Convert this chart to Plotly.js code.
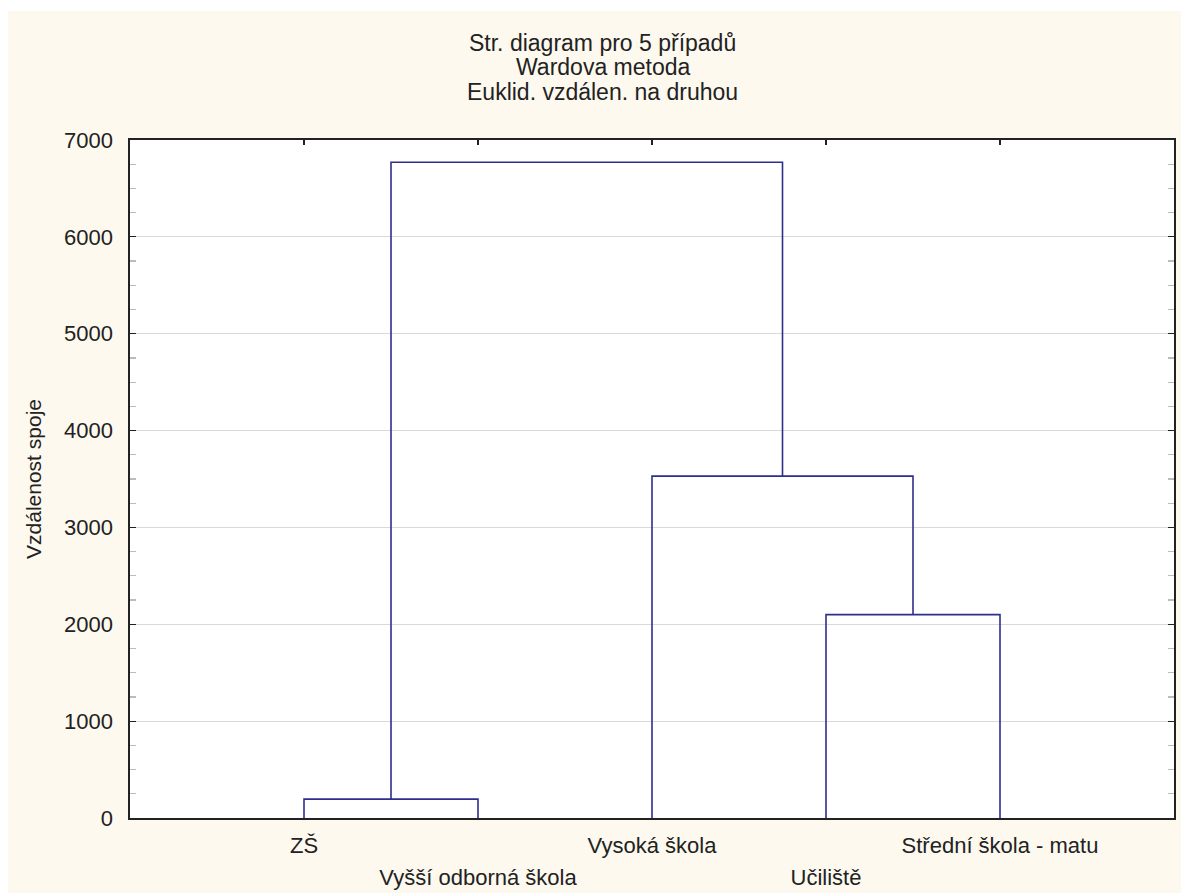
<!DOCTYPE html>
<html>
<head>
<meta charset="utf-8">
<script src="https://cdn.plot.ly/plotly-3.0.1.min.js"></script>
<style>
html,body{margin:0;padding:0;background:#ffffff;width:1181px;height:893px;overflow:hidden;}
#chart{position:absolute;left:8px;top:11px;width:1173px;height:882px;}
</style>
</head>
<body>
<div id="chart"></div>
<script>
// ---- data ----
const titleLines = ["Str. diagram pro 5 případů", "Wardova metoda", "Euklid. vzdálen. na druhou"];
const yTitle = "Vzdálenost spoje";
const leafLabels = ["ZŠ", "Vyšší odborná škola", "Vysoká škola", "Učiliště", "Střední škola - matu"];
// merges: node ids 0..4 are leaves (in plotted order), 5.. are clusters created in order
const mergeLeft   = [0, 3, 2, 5];
const mergeRight  = [1, 4, 6, 7];
const mergeHeight = [195, 2100, 3530, 6770];
const yTicks = [0, 1000, 2000, 3000, 4000, 5000, 6000, 7000];

// ---- build dendrogram segments from data ----
const nodeX = leafLabels.map((_, i) => i + 1);
const nodeH = leafLabels.map(() => 0);
const lx = [], ly = [];
for (let k = 0; k < mergeHeight.length; k++) {
  const a = mergeLeft[k], b = mergeRight[k], h = mergeHeight[k];
  lx.push(nodeX[a], nodeX[a], nodeX[b], nodeX[b], null);
  ly.push(nodeH[a], h, h, nodeH[b], null);
  nodeX.push((nodeX[a] + nodeX[b]) / 2);
  nodeH.push(h);
}
const leafPos = leafLabels.map((_, i) => i + 1);
const rowA = leafPos.filter((_, i) => i % 2 === 0);
const rowAText = leafLabels.filter((_, i) => i % 2 === 0);
const rowB = leafPos.filter((_, i) => i % 2 === 1);
const rowBText = leafLabels.filter((_, i) => i % 2 === 1);

const FONT = "Liberation Sans, Arial, sans-serif";
const TXT = "#222222";

const traces = [
  {x: lx, y: ly, type: "scatter", mode: "lines", xaxis: "x", yaxis: "y",
   line: {color: "#2e2e8c", width: 1.6}, hoverinfo: "skip", showlegend: false},
  {x: [], y: [], type: "scatter", mode: "lines", xaxis: "x2", yaxis: "y", showlegend: false, hoverinfo: "skip"},
  {x: [], y: [], type: "scatter", mode: "lines", xaxis: "x3", yaxis: "y", showlegend: false, hoverinfo: "skip"}
];

const xr = [0, leafLabels.length + 1];
const layout = {
  width: 1173, height: 882,
  paper_bgcolor: "#fdf9ef",
  plot_bgcolor: "#ffffff",
  margin: {l: 122, r: 7, t: 129, b: 75},
  showlegend: false,
  font: {family: FONT, color: TXT, size: 22},
  xaxis: {
    range: xr, tickmode: "array", tickvals: rowA, ticktext: rowAText,
    ticks: "", showgrid: false, zeroline: false,
    showline: true, mirror: true, linecolor: "#222", linewidth: 1.6,
    tickfont: {family: FONT, size: 22, color: TXT}, ticklabelstandoff: 7
  },
  xaxis2: {
    overlaying: "x", side: "top", anchor: "y", range: xr,
    tickmode: "array", tickvals: leafPos, ticks: "inside", ticklen: 5, tickwidth: 1.5,
    tickcolor: "#222", showticklabels: false, showgrid: false, zeroline: false, showline: false
  },
  xaxis3: {
    overlaying: "x", side: "bottom", anchor: "y", range: xr,
    tickmode: "array", tickvals: rowB, ticktext: rowBText,
    ticks: "", showgrid: false, zeroline: false, showline: false,
    tickfont: {family: FONT, size: 22, color: TXT}, ticklabelstandoff: 44
  },
  yaxis: {
    range: [0, 7000], tickmode: "array", tickvals: yTicks,
    ticks: "inside", ticklen: 6, tickwidth: 1.2, tickcolor: "#222",
    showgrid: true, gridcolor: "#d9d9d9", gridwidth: 1, zeroline: false,
    showline: true, mirror: "allticks", linecolor: "#222", linewidth: 1.6,
    tickfont: {family: FONT, size: 22, color: TXT}, ticklabelstandoff: 11,
    minor: {dtick: 250, ticks: "inside", ticklen: 4, tickcolor: "#bbbbbb", showgrid: false},
    title: {text: yTitle, font: {family: FONT, size: 21, color: TXT}, standoff: 16},
    automargin: false
  },
  annotations: titleLines.map((t, i) => ({
    text: t, xref: "paper", yref: "paper", x: 0.453, y: [1.143, 1.1077, 1.071][i],
    xanchor: "center", yanchor: "middle", showarrow: false,
    font: {family: FONT, size: 23, color: TXT}
  }))
};

Plotly.newPlot("chart", traces, layout, {displayModeBar: false, staticPlot: true});
</script>
</body>
</html>
